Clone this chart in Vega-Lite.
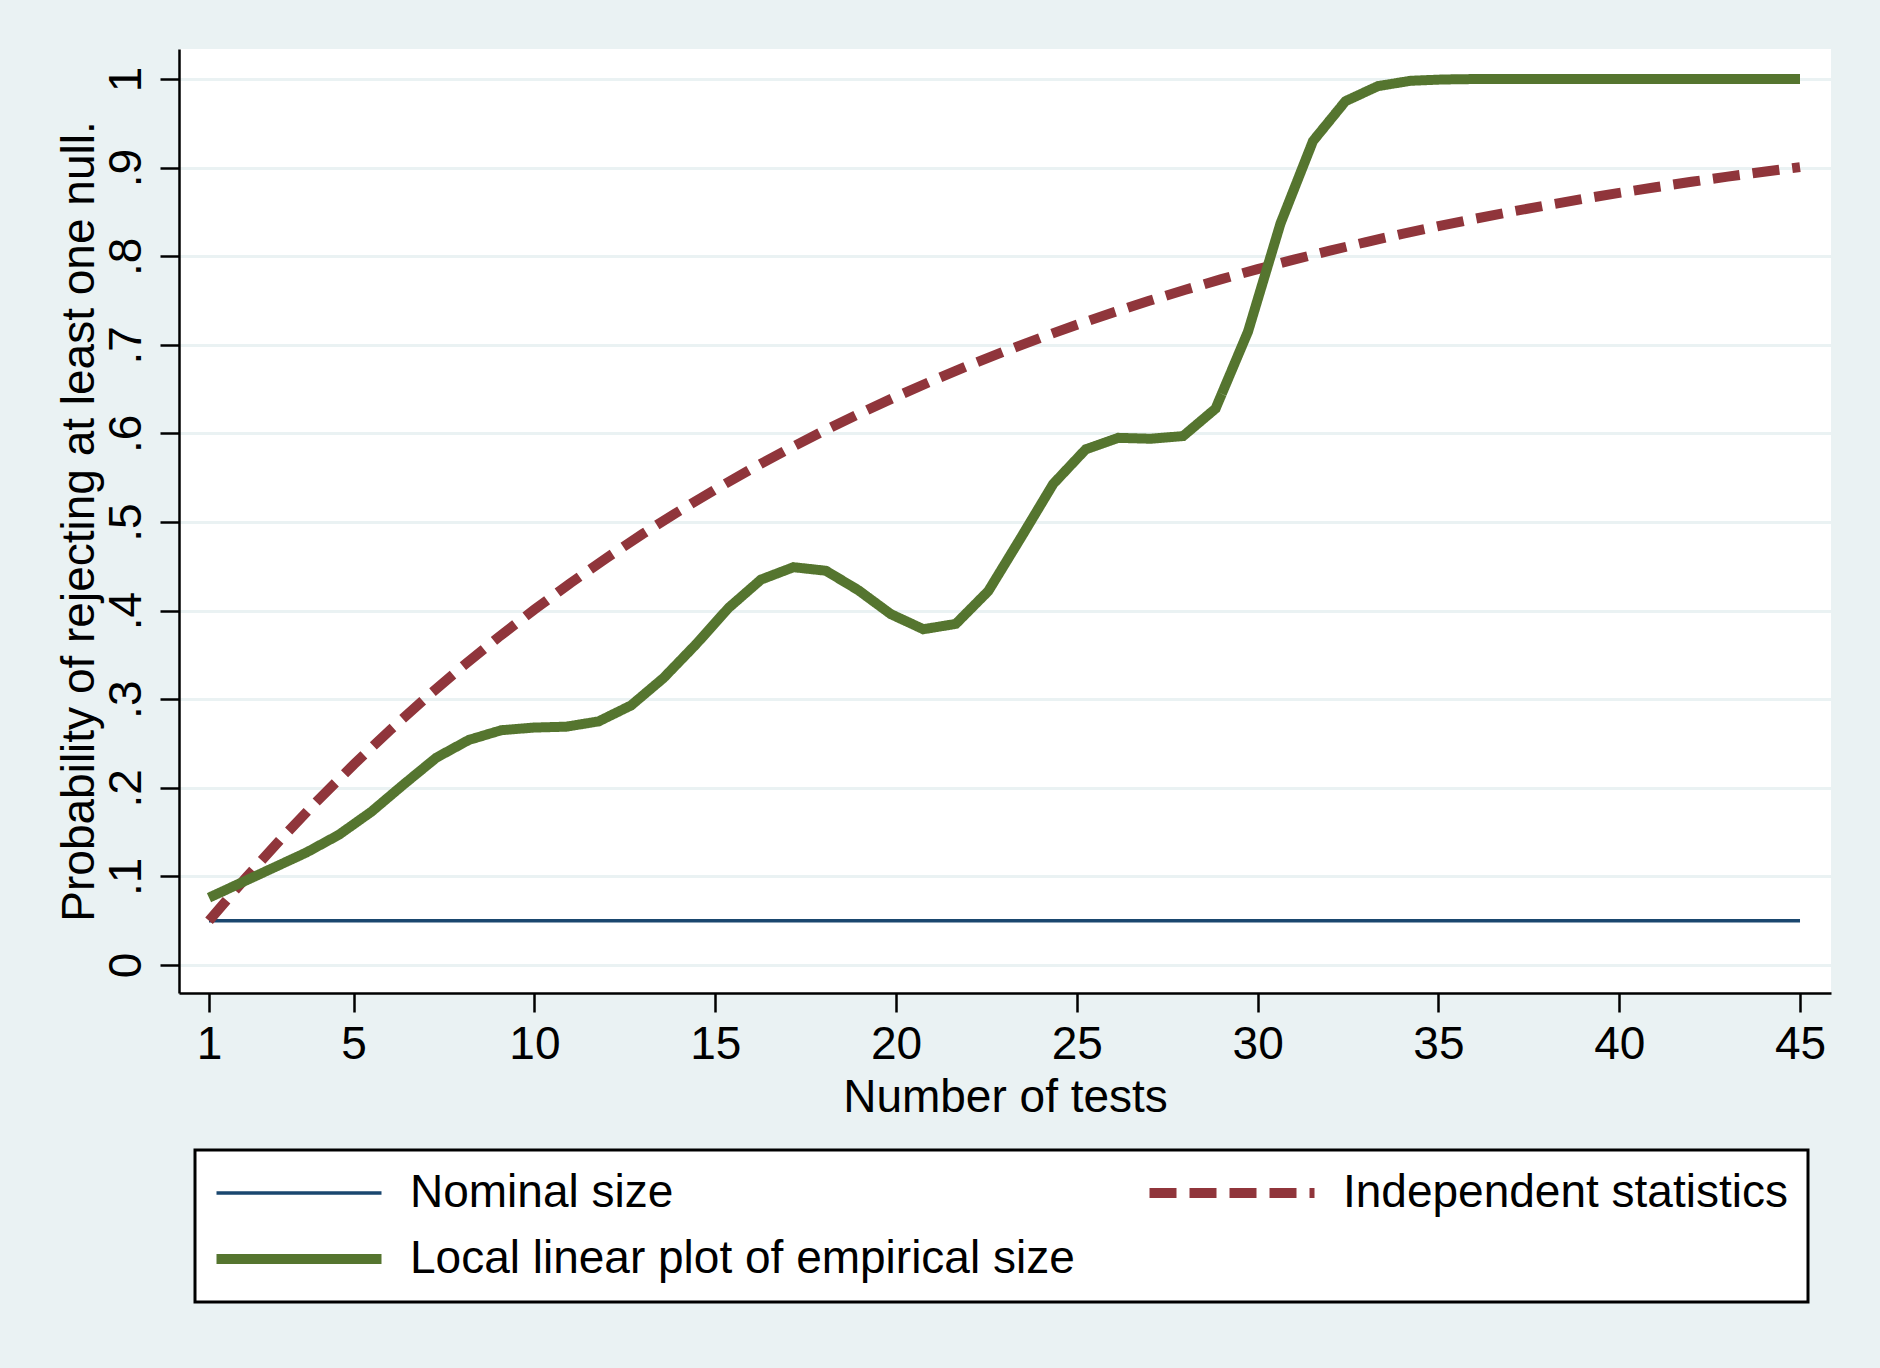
{
  "$schema": "https://vega.github.io/schema/vega-lite/v6.json",
  "width": 1652,
  "height": 944,
  "autosize": {"type": "none"},
  "padding": {"left": 179, "top": 49, "right": 49, "bottom": 375},
  "background": "#eaf2f3",
  "config": {
    "font": "Liberation Sans",
    "view": {"fill": "white", "stroke": null},
    "axis": {
      "domainColor": "black",
      "domainWidth": 2.5,
      "tickColor": "black",
      "tickWidth": 2.5,
      "tickSize": 19,
      "labelFont": "Liberation Sans",
      "labelFontSize": 46,
      "labelColor": "black",
      "titleFont": "Liberation Sans",
      "titleFontSize": 46,
      "titleFontWeight": "normal",
      "titleColor": "black"
    }
  },
  "data": {
    "values": [
      {"series": "Nominal size", "n": 1, "p": 0.05},
      {"series": "Nominal size", "n": 45, "p": 0.05},
      {"series": "Independent statistics", "n": 1, "p": 0.05},
      {"series": "Independent statistics", "n": 2, "p": 0.0975},
      {"series": "Independent statistics", "n": 3, "p": 0.1426},
      {"series": "Independent statistics", "n": 4, "p": 0.1855},
      {"series": "Independent statistics", "n": 5, "p": 0.2262},
      {"series": "Independent statistics", "n": 6, "p": 0.2649},
      {"series": "Independent statistics", "n": 7, "p": 0.3017},
      {"series": "Independent statistics", "n": 8, "p": 0.3366},
      {"series": "Independent statistics", "n": 9, "p": 0.3698},
      {"series": "Independent statistics", "n": 10, "p": 0.4013},
      {"series": "Independent statistics", "n": 11, "p": 0.4312},
      {"series": "Independent statistics", "n": 12, "p": 0.4596},
      {"series": "Independent statistics", "n": 13, "p": 0.4867},
      {"series": "Independent statistics", "n": 14, "p": 0.5123},
      {"series": "Independent statistics", "n": 15, "p": 0.5367},
      {"series": "Independent statistics", "n": 16, "p": 0.5599},
      {"series": "Independent statistics", "n": 17, "p": 0.5819},
      {"series": "Independent statistics", "n": 18, "p": 0.6028},
      {"series": "Independent statistics", "n": 19, "p": 0.6226},
      {"series": "Independent statistics", "n": 20, "p": 0.6415},
      {"series": "Independent statistics", "n": 21, "p": 0.6594},
      {"series": "Independent statistics", "n": 22, "p": 0.6765},
      {"series": "Independent statistics", "n": 23, "p": 0.6926},
      {"series": "Independent statistics", "n": 24, "p": 0.708},
      {"series": "Independent statistics", "n": 25, "p": 0.7226},
      {"series": "Independent statistics", "n": 26, "p": 0.7365},
      {"series": "Independent statistics", "n": 27, "p": 0.7497},
      {"series": "Independent statistics", "n": 28, "p": 0.7622},
      {"series": "Independent statistics", "n": 29, "p": 0.7741},
      {"series": "Independent statistics", "n": 30, "p": 0.7854},
      {"series": "Independent statistics", "n": 31, "p": 0.7961},
      {"series": "Independent statistics", "n": 32, "p": 0.8063},
      {"series": "Independent statistics", "n": 33, "p": 0.816},
      {"series": "Independent statistics", "n": 34, "p": 0.8252},
      {"series": "Independent statistics", "n": 35, "p": 0.8339},
      {"series": "Independent statistics", "n": 36, "p": 0.8422},
      {"series": "Independent statistics", "n": 37, "p": 0.8501},
      {"series": "Independent statistics", "n": 38, "p": 0.8576},
      {"series": "Independent statistics", "n": 39, "p": 0.8647},
      {"series": "Independent statistics", "n": 40, "p": 0.8715},
      {"series": "Independent statistics", "n": 41, "p": 0.8779},
      {"series": "Independent statistics", "n": 42, "p": 0.884},
      {"series": "Independent statistics", "n": 43, "p": 0.8898},
      {"series": "Independent statistics", "n": 44, "p": 0.8953},
      {"series": "Independent statistics", "n": 45, "p": 0.9006},
      {"series": "Local linear plot of empirical size", "n": 1, "p": 0.076},
      {"series": "Local linear plot of empirical size", "n": 1.898, "p": 0.093},
      {"series": "Local linear plot of empirical size", "n": 2.796, "p": 0.11},
      {"series": "Local linear plot of empirical size", "n": 3.694, "p": 0.127},
      {"series": "Local linear plot of empirical size", "n": 4.592, "p": 0.147},
      {"series": "Local linear plot of empirical size", "n": 5.49, "p": 0.173},
      {"series": "Local linear plot of empirical size", "n": 6.388, "p": 0.204},
      {"series": "Local linear plot of empirical size", "n": 7.286, "p": 0.234},
      {"series": "Local linear plot of empirical size", "n": 8.184, "p": 0.254},
      {"series": "Local linear plot of empirical size", "n": 9.082, "p": 0.265},
      {"series": "Local linear plot of empirical size", "n": 9.98, "p": 0.268},
      {"series": "Local linear plot of empirical size", "n": 10.878, "p": 0.269},
      {"series": "Local linear plot of empirical size", "n": 11.776, "p": 0.275},
      {"series": "Local linear plot of empirical size", "n": 12.673, "p": 0.293},
      {"series": "Local linear plot of empirical size", "n": 13.571, "p": 0.324},
      {"series": "Local linear plot of empirical size", "n": 14.469, "p": 0.362},
      {"series": "Local linear plot of empirical size", "n": 15.367, "p": 0.403},
      {"series": "Local linear plot of empirical size", "n": 16.265, "p": 0.435},
      {"series": "Local linear plot of empirical size", "n": 17.163, "p": 0.449},
      {"series": "Local linear plot of empirical size", "n": 18.061, "p": 0.445},
      {"series": "Local linear plot of empirical size", "n": 18.959, "p": 0.423},
      {"series": "Local linear plot of empirical size", "n": 19.857, "p": 0.396},
      {"series": "Local linear plot of empirical size", "n": 20.755, "p": 0.379},
      {"series": "Local linear plot of empirical size", "n": 21.653, "p": 0.385},
      {"series": "Local linear plot of empirical size", "n": 22.551, "p": 0.422},
      {"series": "Local linear plot of empirical size", "n": 23.449, "p": 0.482},
      {"series": "Local linear plot of empirical size", "n": 24.347, "p": 0.543},
      {"series": "Local linear plot of empirical size", "n": 25.245, "p": 0.582},
      {"series": "Local linear plot of empirical size", "n": 26.143, "p": 0.595},
      {"series": "Local linear plot of empirical size", "n": 27.041, "p": 0.594},
      {"series": "Local linear plot of empirical size", "n": 27.939, "p": 0.597},
      {"series": "Local linear plot of empirical size", "n": 28.837, "p": 0.628},
      {"series": "Local linear plot of empirical size", "n": 29.735, "p": 0.715},
      {"series": "Local linear plot of empirical size", "n": 30.633, "p": 0.837},
      {"series": "Local linear plot of empirical size", "n": 31.531, "p": 0.93},
      {"series": "Local linear plot of empirical size", "n": 32.429, "p": 0.975},
      {"series": "Local linear plot of empirical size", "n": 33.327, "p": 0.992},
      {"series": "Local linear plot of empirical size", "n": 34.224, "p": 0.998},
      {"series": "Local linear plot of empirical size", "n": 35.122, "p": 0.9995},
      {"series": "Local linear plot of empirical size", "n": 36.02, "p": 1},
      {"series": "Local linear plot of empirical size", "n": 36.918, "p": 1},
      {"series": "Local linear plot of empirical size", "n": 37.816, "p": 1},
      {"series": "Local linear plot of empirical size", "n": 38.714, "p": 1},
      {"series": "Local linear plot of empirical size", "n": 39.612, "p": 1},
      {"series": "Local linear plot of empirical size", "n": 40.51, "p": 1},
      {"series": "Local linear plot of empirical size", "n": 41.408, "p": 1},
      {"series": "Local linear plot of empirical size", "n": 42.306, "p": 1},
      {"series": "Local linear plot of empirical size", "n": 43.204, "p": 1},
      {"series": "Local linear plot of empirical size", "n": 44.102, "p": 1},
      {"series": "Local linear plot of empirical size", "n": 45, "p": 1}
    ]
  },
  "encoding": {
    "x": {
      "field": "n",
      "type": "quantitative",
      "scale": {"domain": [0.17, 45.857], "nice": false, "zero": false},
      "axis": {
        "title": "Number of tests",
        "values": [1, 5, 10, 15, 20, 25, 30, 35, 40, 45],
        "grid": false,
        "labelPadding": 10,
        "titlePadding": 8
      }
    },
    "y": {
      "field": "p",
      "type": "quantitative",
      "scale": {"domain": [-0.0316, 1.0339], "nice": false, "zero": false},
      "axis": {
        "title": "Probability of rejecting at least one null.",
        "values": [0, 0.1, 0.2, 0.3, 0.4, 0.5, 0.6, 0.7, 0.8, 0.9, 1],
        "labelExpr": "datum.value == 0 ? '0' : datum.value == 1 ? '1' : replace(format(datum.value, '.1f'), '0.', '.')",
        "grid": true,
        "gridColor": "#eaf2f3",
        "gridWidth": 3,
        "labelAngle": 270,
        "labelAlign": "center",
        "labelBaseline": "bottom",
        "labelPadding": 10,
        "titlePadding": 0
      }
    },
    "color": {
      "field": "series",
      "type": "nominal",
      "scale": {
        "domain": ["Nominal size", "Independent statistics", "Local linear plot of empirical size"],
        "range": ["#1a476f", "#90353b", "#55752f"]
      },
      "legend": {
        "orient": "none",
        "legendX": 16,
        "legendY": 1101,
        "title": null,
        "columns": 2,
        "direction": "horizontal",
        "symbolType": "stroke",
        "symbolSize": 27225,
        "symbolOffset": 61,
        "labelFontSize": 46,
        "labelColor": "black",
        "labelLimit": 1000,
        "labelOffset": 88,
        "rowPadding": 20,
        "columnPadding": 54,
        "padding": 20,
        "fillColor": "white",
        "strokeColor": "black",
        "encode": {
          "legend": {"update": {"strokeWidth": {"value": 3}}},
          "symbols": {"update": {"strokeWidth": {"signal": "datum.value === 'Nominal size' ? 3.5 : 10"}}}
        }
      }
    },
    "strokeDash": {
      "field": "series",
      "type": "nominal",
      "scale": {
        "domain": ["Nominal size", "Independent statistics", "Local linear plot of empirical size"],
        "range": [[1, 0], [27, 13], [1, 0]]
      },
      "legend": null
    }
  },
  "layer": [
    {
      "transform": [{"filter": "datum.series === 'Nominal size'"}],
      "mark": {"type": "line", "strokeWidth": 3.5}
    },
    {
      "transform": [{"filter": "datum.series === 'Independent statistics'"}],
      "mark": {"type": "line", "strokeWidth": 10}
    },
    {
      "transform": [{"filter": "datum.series === 'Local linear plot of empirical size'"}],
      "mark": {"type": "line", "strokeWidth": 10}
    }
  ]
}
